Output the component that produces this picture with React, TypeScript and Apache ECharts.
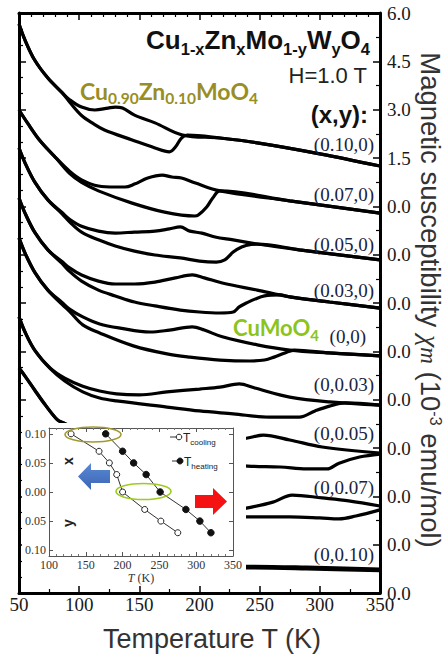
import React, { useEffect, useRef } from "react";
import * as echarts from "echarts";

type Pt = [number, number];

// Susceptibility curves of Cu(1-x)Zn(x)Mo(1-y)W(y)O4 at H = 1 T.
// Each sample is shifted up by 1.5 units; pairs are [T (K), chi + offset].
const zn10Cool: Pt[] = [[50,17.66],[55,17.16],[63,16.54],[74,15.98],[86,15.52],[92,15.31],[102,15.08],[113,14.99],[124,15.05],[130,15.08],[136,15.05],[146,14.83],[163,14.59],[186,14.21],[217,14.12],[248,13.97],[300,13.63],[350,13.25]];
const zn10Heat: Pt[] = [[50,17.66],[55,17.16],[63,16.54],[74,15.98],[86,15.52],[92,15.24],[102,14.82],[112,14.56],[121,14.37],[144,14.06],[163,13.81],[175,13.69],[180,13.84],[185,14.12],[190,14.21],[217,14.12],[248,13.97],[300,13.63],[350,13.25]];

const zn07Cool: Pt[] = [[50,14.99],[57,14.59],[67,14.06],[80,13.53],[92,13.09],[102,12.82],[116,12.63],[130,12.60],[138,12.60],[146,12.69],[157,12.88],[169,12.97],[177,12.91],[185,12.88],[196,12.73],[217,12.48],[275,12.17],[350,11.79]];
const zn07Heat: Pt[] = [[50,14.99],[57,14.59],[67,14.06],[80,13.53],[92,13.02],[102,12.74],[116,12.48],[144,12.10],[171,11.82],[196,11.70],[199,11.73],[206,11.98],[211,12.26],[217,12.48],[275,12.17],[350,11.79]];

const zn05Cool: Pt[] = [[50,13.81],[55,13.35],[63,12.76],[74,12.20],[86,11.80],[92,11.60],[102,11.38],[116,11.23],[130,11.17],[146,11.20],[163,11.23],[175,11.30],[184,11.36],[192,11.23],[202,11.17],[213,11.05],[228,10.96],[248,10.83],[283,10.65],[350,10.34]];
const zn05Heat: Pt[] = [[50,13.81],[55,13.35],[63,12.76],[74,12.20],[86,11.76],[92,11.52],[102,11.20],[116,10.96],[130,10.77],[146,10.61],[163,10.49],[184,10.40],[200,10.30],[214,10.27],[221,10.34],[228,10.58],[235,10.74],[243,10.82],[248,10.83],[283,10.65],[350,10.34]];

const zn03Cool: Pt[] = [[50,12.26],[55,11.79],[63,11.20],[74,10.65],[86,10.28],[92,10.09],[102,9.87],[116,9.68],[130,9.59],[146,9.59],[163,9.65],[180,9.78],[194,9.87],[204,9.78],[219,9.62],[248,9.40],[275,9.19],[308,9.03],[350,8.84]];
const zn03Heat: Pt[] = [[50,12.26],[55,11.79],[63,11.20],[74,10.65],[86,10.22],[92,9.98],[102,9.68],[116,9.40],[130,9.22],[146,9.03],[163,8.91],[184,8.78],[200,8.72],[217,8.69],[228,8.72],[233,8.88],[239,9.00],[246,9.12],[254,9.22],[267,9.25],[275,9.19],[308,9.03],[350,8.84]];

const pureCool: Pt[] = [[50,11.02],[55,10.55],[63,9.96],[74,9.40],[86,9.01],[92,8.81],[103,8.57],[117,8.35],[134,8.22],[159,8.10],[175,8.16],[194,8.26],[204,8.16],[219,7.95],[248,7.70],[275,7.54],[308,7.45],[350,7.36]];
const pureHeat: Pt[] = [[50,11.02],[55,10.55],[63,9.96],[74,9.40],[86,8.95],[92,8.74],[103,8.32],[117,8.07],[145,7.67],[173,7.42],[192,7.32],[217,7.23],[242,7.20],[254,7.23],[262,7.32],[271,7.45],[279,7.54],[308,7.45],[350,7.36]];

const w03Cool: Pt[] = [[50,8.57],[55,8.10],[63,7.54],[76,6.98],[88,6.67],[103,6.42],[117,6.27],[131,6.18],[150,6.15],[173,6.24],[200,6.33],[217,6.39],[233,6.49],[246,6.36],[275,6.08],[308,5.93],[350,5.83]];
const w03Heat: Pt[] = [[50,8.57],[55,8.10],[63,7.54],[76,6.96],[88,6.58],[103,6.24],[117,6.05],[131,5.96],[173,5.77],[200,5.65],[228,5.56],[258,5.46],[283,5.46],[296,5.65],[308,5.80],[321,5.90],[350,5.83]];

const w05Cool: Pt[] = [[50,6.98],[55,6.73],[63,6.30],[72,5.83],[82,5.37],[87,5.28],[101,5.06],[134,4.84],[167,4.75],[200,4.72],[229,4.75],[240,4.81],[253,4.90],[275,4.75],[302,4.53],[350,4.34]];
const w05Heat: Pt[] = [[50,6.98],[55,6.73],[63,6.30],[72,5.83],[82,5.37],[87,5.28],[117,4.59],[159,4.28],[200,4.07],[240,3.94],[267,3.91],[289,3.85],[306,3.85],[316,4.03],[333,4.22],[350,4.31]];

const w07Cool: Pt[] = [[230,2.58],[240,2.64],[261,2.82],[277,3.04],[302,2.95],[324,2.86],[350,2.70]];
const w07Heat: Pt[] = [[230,2.36],[240,2.36],[275,2.36],[300,2.33],[316,2.30],[330,2.39],[350,2.58]];

const w10Cool: Pt[] = [[230,0.83],[240,0.83],[289,0.80],[350,0.74]];
const w10Heat: Pt[] = [[230,0.78],[240,0.78],[289,0.75],[350,0.69]];

const sampleCurves: Pt[][][] = [
  [zn10Cool, zn10Heat], [zn07Cool, zn07Heat], [zn05Cool, zn05Heat], [zn03Cool, zn03Heat],
  [pureCool, pureHeat], [w03Cool, w03Heat], [w05Cool, w05Heat], [w07Cool, w07Heat], [w10Cool, w10Heat],
];
const sampleLabels = ["(0.10,0)", "(0.07,0)", "(0.05,0)", "(0.03,0)", "(0,0)", "(0,0.03)", "(0,0.05)", "(0,0.07)", "(0,0.10)"];

// Right-axis tick labels, from 0 to 18 in steps of 1.5
const chiTickLabels = ["0.0", "0.0", "0.0", "0.0", "0.0", "0.0", "0.0", "0.0", "0.0", "1.5", "3.0", "4.5", "6.0"];

// Inset: transition temperatures vs. composition (x above zero, y below)
const insetComposition = [0.10, 0.07, 0.05, 0.03, 0, -0.03, -0.05, -0.07];
const tCooling = [130, 168, 182, 192, 200, 230, 252, 275];
const tHeating = [177, 200, 215, 232, 251, 286, 305, 320];
const insetTickValues = [-0.1, -0.05, 0, 0.05, 0.1];
const insetTickLabels = ["0.10", "0.05", "0.00", "0.05", "0.10"];

const SERIF = "'Liberation Serif', 'DejaVu Serif', serif";
const SANS = "'Liberation Sans', 'DejaVu Sans', sans-serif";
const CALI = "Lato, 'Liberation Sans', sans-serif";

// label layout (pixels)
const sampleLabelY = [144, 194, 244, 290, 336, 384, 433, 487, 554];
const sampleLabelX = [374, 374, 374, 374, 366, 374, 374, 374, 374];

function txt(x: number, y: number, style: any, extra: any = {}) {
  const s = { ...style };
  if (s.align) s.textAlign = s.align;
  if (s.verticalAlign) s.textVerticalAlign = s.verticalAlign;
  return { type: "text", x, y, z: 14, style: s, ...extra };
}

function buildOption() {
  const black = "#000";
  const mainSeries = sampleCurves.flatMap((pair, i) =>
    pair.map((data, j) => ({
      name: sampleLabels[i] + (j === 0 ? " cooling" : " heating"),
      type: "line",
      xAxisIndex: 0,
      yAxisIndex: 0,
      data,
      showSymbol: false,
      smooth: 0.35,
      lineStyle: { color: black, width: 3.2 },
      z: 2,
    }))
  );

  const insetAxisLine = { show: true, onZero: false, lineStyle: { color: "#555", width: 1 } };
  const insetTick = { show: true, inside: true, length: 4, lineStyle: { color: "#555", width: 1 } };
  const insetMinor = { show: true, splitNumber: 5, length: 2, lineStyle: { color: "#777", width: 1 } };
  const insetLabel = { fontFamily: SERIF, fontSize: 12, color: "#333" };

  const graphics: any[] = [
    // white backing of the inset
    { type: "rect", z: 10, shape: { x: 22, y: 423, width: 224, height: 163 }, style: { fill: "#fff" } },
    // ellipses marking the two highlighted samples
    { type: "ellipse", z: 14, shape: { cx: 93, cy: 434.5, rx: 28, ry: 7.5 }, style: { fill: "none", stroke: "#a39a2e", lineWidth: 1.6 } },
    { type: "ellipse", z: 14, shape: { cx: 143.5, cy: 491.5, rx: 27.5, ry: 8 }, style: { fill: "none", stroke: "#9ccc1e", lineWidth: 1.6 } },
    // arrows: cooling (left) and heating (right)
    {
      type: "polygon", z: 14,
      shape: { points: [[78, 476.5], [91, 463], [91, 470], [110, 470], [110, 483], [91, 483], [91, 490]] },
      style: { fill: new echarts.graphic.LinearGradient(0, 0, 0, 1, [{ offset: 0, color: "#5a89d4" }, { offset: 1, color: "#3b65b3" }]) },
    },
    {
      type: "polygon", z: 14,
      shape: { points: [[227, 501.5], [213, 488], [213, 495], [195, 495], [195, 508], [213, 508], [213, 515]] },
      style: { fill: "#f51212" },
    },
    // inset legend
    { type: "line", z: 14, shape: { x1: 170, y1: 437, x2: 178, y2: 437 }, style: { stroke: "#333", lineWidth: 1 } },
    { type: "circle", z: 15, shape: { cx: 179, cy: 437, r: 2.8 }, style: { fill: "#fff", stroke: "#222", lineWidth: 1 } },
    { type: "line", z: 14, shape: { x1: 172, y1: 461, x2: 180, y2: 461 }, style: { stroke: "#333", lineWidth: 1 } },
    { type: "circle", z: 15, shape: { cx: 180, cy: 461, r: 3 }, style: { fill: "#111", stroke: "#111", lineWidth: 1 } },
    txt(183, 438, {
      text: "{t|T}{s|cooling}", align: "left", verticalAlign: "middle",
      rich: {
        t: { fontFamily: SANS, fontSize: 12, lineHeight: 16, fill: "#222" },
        s: { fontFamily: SANS, fontSize: 8, lineHeight: 8, fill: "#222", verticalAlign: "bottom" },
      },
    }),
    txt(184, 462, {
      text: "{t|T}{s|heating}", align: "left", verticalAlign: "middle",
      rich: {
        t: { fontFamily: SANS, fontSize: 12, lineHeight: 16, fill: "#222" },
        s: { fontFamily: SANS, fontSize: 8, lineHeight: 8, fill: "#222", verticalAlign: "bottom" },
      },
    }),
    // inset axis letters
    txt(68, 461, { text: "x", font: `bold 14px ${SANS}`, fill: "#222", align: "center", verticalAlign: "middle" }, { rotation: Math.PI / 2 }),
    txt(68, 523, { text: "y", font: `bold 14px ${SANS}`, fill: "#222", align: "center", verticalAlign: "middle" }, { rotation: Math.PI / 2 }),
    txt(141, 578, {
      text: "{i|T}{n| (K)}", align: "center", verticalAlign: "middle",
      rich: {
        i: { fontFamily: SERIF, fontStyle: "italic", fontSize: 12, fill: "#333" },
        n: { fontFamily: SERIF, fontSize: 12, fill: "#333" },
      },
    }),
    // formula and field
    txt(370, 40, {
      text: "{m|Cu}{s|1-x}{m|Zn}{s|x}{m|Mo}{s|1-y}{m|W}{s|y}{m|O}{s|4}", align: "right", verticalAlign: "middle",
      rich: {
        m: { fontFamily: SANS, fontWeight: "bold", fontSize: 26, lineHeight: 34, fill: "#111" },
        s: { fontFamily: SANS, fontWeight: "bold", fontSize: 16.5, lineHeight: 16, fill: "#111", verticalAlign: "bottom" },
      },
    }),
    txt(367, 75, { text: "H=1.0 T", font: `22px ${SANS}`, fill: "#222", align: "right", verticalAlign: "middle" }),
    txt(368, 114, { text: "(x,y):", font: `bold 24px ${SANS}`, fill: "#111", align: "right", verticalAlign: "middle" }),
    txt(80, 91, {
      text: "{m|Cu}{s|0.90}{m|Zn}{s|0.10}{m|MoO}{s|4}", align: "left", verticalAlign: "middle",
      rich: {
        m: { fontFamily: CALI, fontWeight: "bold", fontSize: 23, lineHeight: 30, fill: "#988e24" },
        s: { fontFamily: CALI, fontWeight: "bold", fontSize: 15.5, lineHeight: 16, fill: "#988e24", verticalAlign: "bottom" },
      },
    }),
    txt(233, 327, {
      text: "{m|CuMoO}{s|4}", align: "left", verticalAlign: "middle",
      rich: {
        m: { fontFamily: CALI, fontWeight: "bold", fontSize: 22, lineHeight: 30, fill: "#8cc41c" },
        s: { fontFamily: CALI, fontWeight: "bold", fontSize: 15, lineHeight: 15, fill: "#8cc41c", verticalAlign: "bottom" },
      },
    }),
    // axis titles
    txt(212, 639, { text: "Temperature T (K)", font: `27px ${SANS}`, fill: "#333", align: "center", verticalAlign: "middle" }),
    txt(430, 300, {
      text: "{n|Magnetic susceptibility }{g|χ}{s|m}{n| (10}{p|-3}{n| emu/mol)}", align: "center", verticalAlign: "middle",
      rich: {
        n: { fontFamily: SANS, fontSize: 27.5, lineHeight: 26, fill: "#333" },
        g: { fontFamily: SERIF, fontStyle: "italic", fontSize: 28, lineHeight: 26, fill: "#333" },
        s: { fontFamily: SERIF, fontStyle: "italic", fontSize: 23, lineHeight: 22, fill: "#333", verticalAlign: "bottom" },
        p: { fontFamily: SANS, fontSize: 16, lineHeight: 14, fill: "#333", verticalAlign: "top" },
      },
    }, { rotation: -Math.PI / 2 }),
  ];

  sampleLabels.forEach((label, i) => {
    graphics.push(txt(sampleLabelX[i], sampleLabelY[i], {
      text: label, font: `19px ${SERIF}`, fill: "#1b2340", align: "right", verticalAlign: "middle",
    }));
  });

  return {
    animation: false,
    backgroundColor: "#fff",
    grid: [
      { left: 19, top: 13, width: 361, height: 580, show: false, containLabel: false, outerBoundsMode: "none" },
      { left: 49, top: 428, width: 184, height: 128, show: false, containLabel: false, outerBoundsMode: "none" },
    ],
    xAxis: [
      {
        gridIndex: 0, type: "value", position: "bottom", min: 50, max: 350, interval: 50,
        axisLine: { show: true, onZero: false, lineStyle: { color: black, width: 3 } },
        axisTick: { show: true, inside: true, length: 7, lineStyle: { color: black, width: 1.5 } },
        minorTick: { show: true, splitNumber: 2, length: 4, lineStyle: { color: black, width: 1.2 } },
        axisLabel: { show: true, margin: 2, fontFamily: SERIF, fontSize: 19, color: "#1a1a1a" },
        splitLine: { show: false },
        z: 5,
      },
      {
        gridIndex: 0, type: "value", position: "top", min: 50, max: 350, interval: 50,
        axisLine: { show: true, onZero: false, lineStyle: { color: black, width: 3 } },
        axisTick: { show: true, inside: true, length: 7, lineStyle: { color: black, width: 1.5 } },
        minorTick: { show: true, splitNumber: 5, length: 4, lineStyle: { color: black, width: 1.2 } },
        axisLabel: { show: false },
        splitLine: { show: false },
        z: 5,
      },
      {
        gridIndex: 1, type: "value", position: "bottom", min: 100, max: 350, interval: 50,
        axisLine: insetAxisLine, axisTick: insetTick, minorTick: insetMinor,
        axisLabel: { ...insetLabel, margin: 3 },
        splitLine: { show: false }, z: 12,
      },
      {
        gridIndex: 1, type: "value", position: "top", min: 100, max: 350, interval: 50,
        axisLine: insetAxisLine, axisTick: insetTick, minorTick: insetMinor,
        axisLabel: { show: false }, splitLine: { show: false }, z: 12,
      },
    ],
    yAxis: [
      {
        gridIndex: 0, type: "value", position: "left", min: 0, max: 18, interval: 1.5,
        axisLine: { show: true, onZero: false, lineStyle: { color: black, width: 3 } },
        axisTick: { show: true, inside: true, length: 7, lineStyle: { color: black, width: 1.5 } },
        minorTick: { show: true, splitNumber: 3, length: 4, lineStyle: { color: black, width: 1.2 } },
        axisLabel: { show: false },
        splitLine: { show: false },
        z: 5,
      },
      {
        gridIndex: 0, type: "value", position: "right", min: 0, max: 18, interval: 1.5,
        axisLine: { show: true, onZero: false, lineStyle: { color: black, width: 3 } },
        axisTick: { show: true, inside: true, length: 7, lineStyle: { color: black, width: 1.5 } },
        minorTick: { show: true, splitNumber: 2, length: 4, lineStyle: { color: black, width: 1.2 } },
        axisLabel: {
          show: true, margin: 7, fontFamily: SERIF, fontSize: 19, color: "#1a1a1a",
          formatter: (v: number) => chiTickLabels[Math.round(v / 1.5)] ?? "",
        },
        splitLine: { show: false },
        z: 5,
      },
      {
        gridIndex: 1, type: "value", position: "left", min: -0.11, max: 0.11,
        axisLine: insetAxisLine,
        axisTick: { ...insetTick, customValues: insetTickValues },
        axisLabel: {
          ...insetLabel, margin: 3, customValues: insetTickValues,
          formatter: (v: number) => {
            const k = insetTickValues.findIndex((t) => Math.abs(t - v) < 1e-6);
            return k >= 0 ? insetTickLabels[k] : "";
          },
        },
        splitLine: { show: false }, z: 12,
      },
      {
        gridIndex: 1, type: "value", position: "right", min: -0.11, max: 0.11,
        axisLine: insetAxisLine,
        axisTick: { ...insetTick, customValues: insetTickValues },
        axisLabel: { show: false }, splitLine: { show: false }, z: 12,
      },
    ],
    series: [
      ...mainSeries,
      {
        name: "T cooling", type: "line", xAxisIndex: 2, yAxisIndex: 2,
        data: tCooling.map((t, i) => [t, insetComposition[i]]),
        symbol: "circle", symbolSize: 6, showSymbol: true,
        lineStyle: { color: "#333", width: 1 },
        itemStyle: { color: "#fff", borderColor: "#222", borderWidth: 1 },
        z: 13,
      },
      {
        name: "T heating", type: "line", xAxisIndex: 2, yAxisIndex: 2,
        data: tHeating.map((t, i) => [t, insetComposition[i]]),
        symbol: "circle", symbolSize: 6.5, showSymbol: true,
        lineStyle: { color: "#333", width: 1 },
        itemStyle: { color: "#111", borderColor: "#111", borderWidth: 1 },
        z: 13,
      },
    ],
    graphic: { elements: graphics },
  };
}

export default function App() {
  const ref = useRef<HTMLDivElement>(null);
  useEffect(() => {
    document.body.style.margin = "0";
    if (!ref.current) return;
    const chart = echarts.init(ref.current, null, { renderer: "svg" });
    chart.setOption(buildOption() as any);
    return () => chart.dispose();
  }, []);
  return <div ref={ref} style={{ width: 444, height: 655 }} />;
}
